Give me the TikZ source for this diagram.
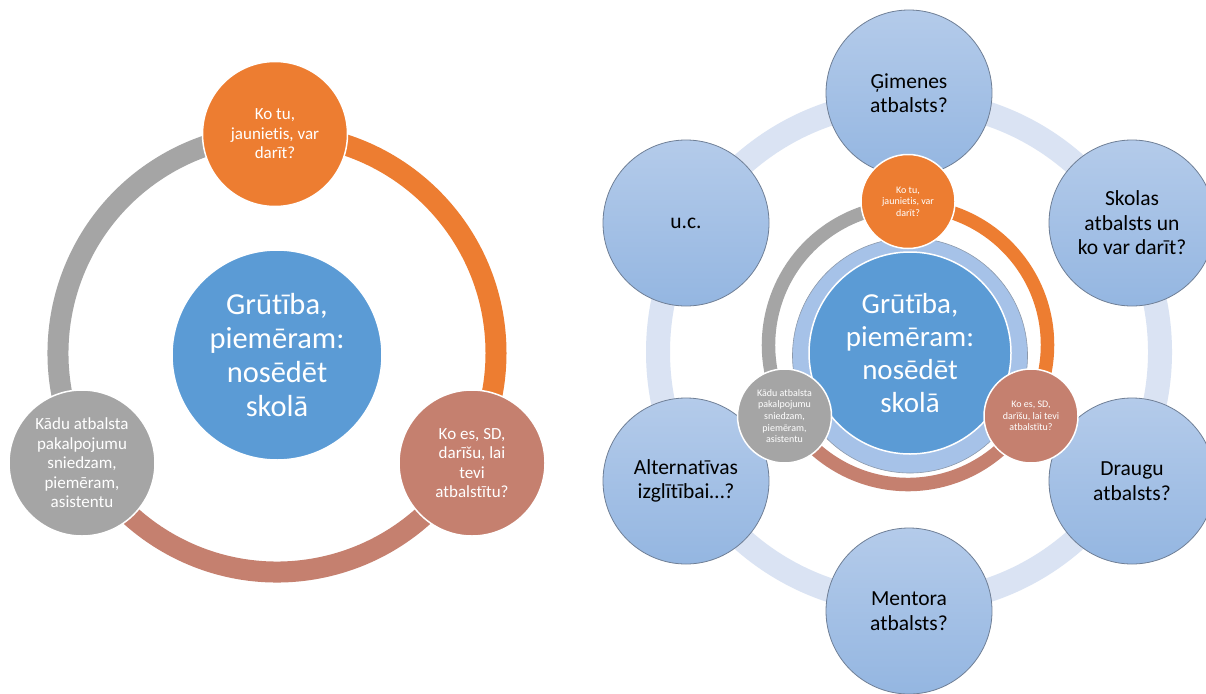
\documentclass[tikz,border=0pt]{standalone}
\usepackage{fontspec}
\setmainfont{Carlito}[Ligatures={CommonOff}]
\definecolor{corange}{HTML}{ED7D31}
\definecolor{cbrown}{HTML}{C5806F}
\definecolor{cgray}{HTML}{A5A5A5}
\definecolor{cblue}{HTML}{5B9BD5}
\definecolor{cring}{HTML}{DAE3F3}
\definecolor{btop}{HTML}{B4CBEA}
\definecolor{bbot}{HTML}{94B6E1}
\definecolor{bline}{HTML}{6F7F96}
\definecolor{clight}{HTML}{A6C2E8}
\begin{document}
\begin{tikzpicture}[x=1pt,y=1pt,
  disc/.style={circle, inner sep=0pt, minimum size=#1, align=center, text=white, draw=white, line width=1.5pt},
  bigdisc/.style={circle, inner sep=0pt, minimum size=166, align=center, text=black,
    top color=btop, bottom color=bbot, draw=bline, line width=0.8pt,
    font=\fontsize{21.5}{24.5}\selectfont},
  smallL/.style={font=\fontsize{17}{19.5}\selectfont},
  smallR/.style={font=\fontsize{10}{11.6}\selectfont},
  centerT/.style={font=\fontsize{30.5}{34}\selectfont},
  centerTR/.style={font=\fontsize{29}{33}\selectfont},
  arcL/.style={line width=21pt},
  arcR/.style={line width=13.5pt}]
\useasboundingbox (0,0) rectangle (1206,-693);
\fill[white] (0,0) rectangle (1206,-693);

% ---------------- left diagram ----------------
\coordinate (Lc) at (277,-353);
\draw[arcL, corange] (Lc) ++(90:219) arc[start angle=90, end angle=-30, radius=219];
\draw[arcL, cbrown] (Lc) ++(-30:219) arc[start angle=-30, end angle=-150, radius=219];
\draw[arcL, cgray] (Lc) ++(210:219) arc[start angle=210, end angle=90, radius=219];

\node[disc=210, fill=cblue, centerT] (Lm) at (277,-355) {Grūtība,\\piemēram:\\nosēdēt\\skolā};
\node[disc=145, fill=corange, smallL] (Lo) at (275,-134) {Ko tu,\\jaunietis, var\\darīt?};
\node[disc=146, fill=cgray, smallL] (Lg) at (82,-463) {Kādu atbalsta\\pakalpojumu\\sniedzam,\\piemēram,\\asistentu};
\node[disc=146, fill=cbrown, smallL] (Lb) at (472,-463) {Ko es, SD,\\darīšu, lai\\tevi\\atbalstītu?};

% ---------------- right diagram ----------------
\coordinate (Rc) at (909,-352);
\draw[cring, line width=24pt] (Rc) circle[radius=251];

\node[bigdisc] (R1) at (909,-93) {\raisebox{-3pt}{\parbox{120pt}{\centering Ģimenes\\atbalsts?}}};
\node[bigdisc] (R2) at (1132,-223) {Skolas\\atbalsts un\\ko var darīt?};
\node[bigdisc] (R3) at (1132,-481) {Draugu\\atbalsts?};
\node[bigdisc] (R4) at (909,-611) {Mentora\\atbalsts?};
\node[bigdisc] (R5) at (686,-481) {Alternatīvas\\izglītībai…?};
\node[bigdisc] (R6) at (686,-223) {u.c.};

\node[circle, inner sep=0pt, minimum size=235, fill=clight, draw=bline!80, line width=0.6pt] (Rl) at (910,-355.5) {};

\coordinate (Ri) at (908,-345);
\draw[arcR, corange] (Ri) ++(90:139.5) arc[start angle=90, end angle=-30, radius=139.5];
\draw[arcR, cbrown] (Ri) ++(-30:139.5) arc[start angle=-30, end angle=-150, radius=139.5];
\draw[arcR, cgray] (Ri) ++(210:139.5) arc[start angle=210, end angle=90, radius=139.5];

\node[disc=202, fill=cblue, centerTR] (Rm) at (910,-353) {Grūtība,\\piemēram:\\nosēdēt\\skolā};

\node[disc=94, fill=corange, smallR] (Ro) at (908,-201.5) {Ko tu,\\jaunietis, var\\darīt?};
\node[disc=94, fill=cbrown, smallR] (Rb) at (1031,-416) {Ko es, SD,\\darīšu, lai tevi\\atbalstītu?};
\node[disc=94, fill=cgray, smallR] (Rg) at (784.5,-416) {Kādu atbalsta\\pakalpojumu\\sniedzam,\\piemēram,\\asistentu};
\end{tikzpicture}
\end{document}
